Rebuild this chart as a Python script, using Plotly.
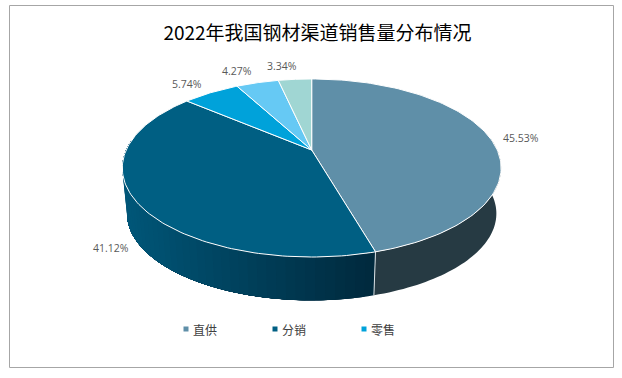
import numpy as np
import plotly.graph_objects as go

TITLE = "2022年我国钢材渠道销售量分布情况"
SHARES = [45.53, 41.12, 5.74, 4.27, 3.34]
LEGEND_NAMES = ["直供", "分销", "零售"]
TOP_COLORS = ["#5F8FA8", "#005F83", "#00A2DA", "#66C9F4", "#A0D6D3"]
LEGEND_COLORS = ["#5F8FA8", "#005F83", "#00A2DA"]

W, H = 622, 378
CX, CY = 311.7, 150.0
R, K, P = 185.5, 85.4, 0.202
BOTTOM_SCALE, BOTTOM_DROP = 0.975, 46.0
LEFT_WARP = 0.035


def rim_raw(theta, scale=1.0, drop=0.0):
    X, Y = np.sin(theta), np.cos(theta)
    s = 1.0 / (1.0 + P * Y)
    return CX + scale * R * X * s, CY + drop - scale * K * Y * s


def rim(theta, scale=1.0, drop=0.0):
    # the source's perspective pushes the back-left wedges slightly further left
    return rim_raw(theta + LEFT_WARP * np.minimum(np.sin(theta), 0), scale, drop)


def mix(c1, c2, t):
    return "rgb(%d,%d,%d)" % tuple(round(a + (b - a) * t) for a, b in zip(c1, c2))


fig = go.Figure()
edges = np.concatenate([[0], np.cumsum(SHARES)]) / sum(SHARES) * 2 * np.pi
split = edges[1]

# side wall, right slice
side_start = np.radians(82)
th = np.linspace(side_start, split, 60)
xt, yt = rim(th)
xb, yb = rim(th, BOTTOM_SCALE, BOTTOM_DROP)
fig.add_trace(go.Scatter(
    x=np.r_[xt, xb[::-1]], y=np.r_[yt, yb[::-1]], fill="toself", mode="none",
    fillcolor="#263A43", hoverinfo="skip", showlegend=False))

# side wall, left slice: overlapping bands give a seamless gradient
side_end = np.radians(278)
steps = np.linspace(split, side_end, 46)
for a in steps[:-1]:
    th = np.linspace(a, side_end, 60)
    xt, yt = rim(th)
    xb, yb = rim(th, BOTTOM_SCALE, BOTTOM_DROP)
    t = np.clip((xt[0] - 127) / (373 - 127), 0, 1)
    col = mix((0, 86, 120), (0, 42, 62), t)
    fig.add_trace(go.Scatter(
        x=np.r_[xt, xb[::-1]], y=np.r_[yt, yb[::-1]], fill="toself", mode="none",
        fillcolor=col, hoverinfo="skip", showlegend=False))

# separator on the side wall
x0, y0 = rim(split)
x1, y1 = rim(split, BOTTOM_SCALE, BOTTOM_DROP)
fig.add_trace(go.Scatter(x=[x0, x1], y=[y0, y1], mode="lines",
                         line=dict(color="#D8E0E4", width=1),
                         hoverinfo="skip", showlegend=False))

# top face
for i, c in enumerate(TOP_COLORS):
    th = np.linspace(edges[i], edges[i + 1], 120)
    xs, ys = rim(th)
    fig.add_trace(go.Scatter(
        x=np.r_[CX, xs, CX], y=np.r_[CY, ys, CY], fill="toself", mode="lines",
        fillcolor=c, line=dict(color="white", width=1),
        hoverinfo="skip", showlegend=False))

# value labels
label_offsets = [(31, 0), (-25, 47), (-27, -8), (-22, -11), (-14, -13)]
annotations = []
for i, v in enumerate(SHARES):
    mx, my = rim_raw((edges[i] + edges[i + 1]) / 2)
    dx, dy = label_offsets[i]
    annotations.append(dict(
        x=mx + dx, y=my + dy, text=f"{v:.2f}%", showarrow=False,
        xanchor="center", yanchor="middle",
        font=dict(family="Open Sans", size=10.5, color="#595959")))

# legend row
for i, name in enumerate(LEGEND_NAMES):
    lx = 186 + 89 * i
    fig.add_trace(go.Scatter(
        x=[lx], y=[329], mode="markers",
        marker=dict(symbol="square", size=5, color=LEGEND_COLORS[i]),
        hoverinfo="skip", showlegend=False))
    annotations.append(dict(
        x=lx + 5, y=329, text=name, showarrow=False, xanchor="left", yanchor="middle",
        font=dict(family="Noto Sans CJK SC", size=12, color="#404040")))

fig.update_layout(
    width=W, height=H, margin=dict(l=0, r=0, t=0, b=0),
    paper_bgcolor="white", plot_bgcolor="white", showlegend=False,
    title=dict(text=TITLE, x=317.5 / W, xanchor="center", y=1 - 33 / H, yanchor="middle",
               font=dict(family="Noto Sans CJK SC", size=19, color="#000000")),
    xaxis=dict(range=[0, W], visible=False, domain=[0, 1], fixedrange=True),
    yaxis=dict(range=[H, 0], visible=False, domain=[0, 1], fixedrange=True),
    annotations=annotations,
    shapes=[dict(type="rect", xref="x", yref="y", x0=9.5, x1=613.5, y0=5.5, y1=367.5,
                 line=dict(color="#A6A6A6", width=1), layer="below")],
)
fig.write_html("out.html", post_script="document.body.style.margin='0';",
               config={"displayModeBar": False})
